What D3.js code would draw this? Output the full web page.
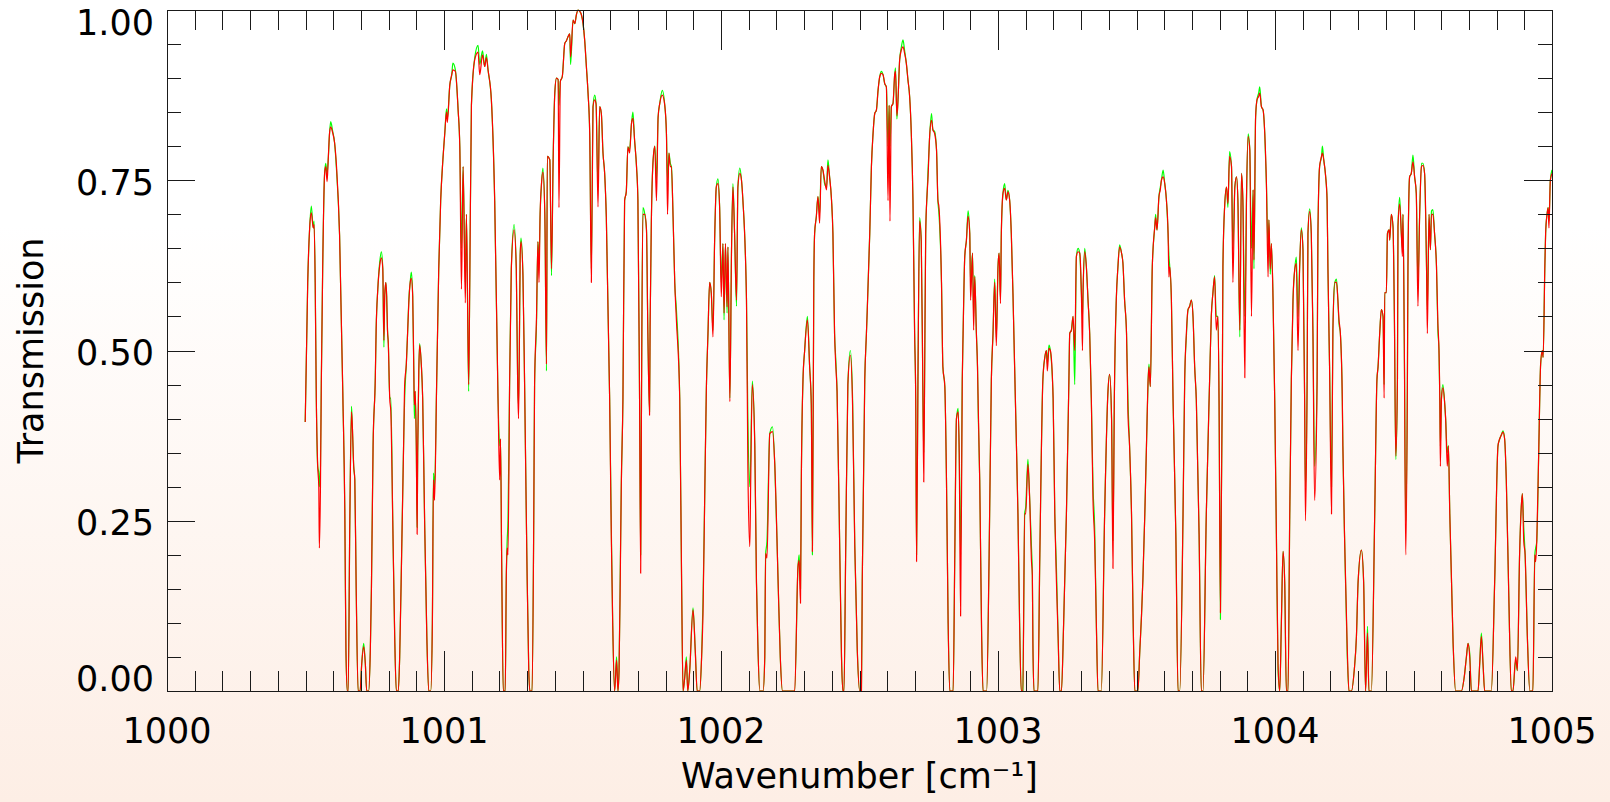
<!DOCTYPE html>
<html>
<head>
<meta charset="utf-8">
<script src="https://cdn.jsdelivr.net/npm/d3@7"></script>
<style>
  html, body { margin: 0; padding: 0; background: #ffffff; }
  svg { display: block; }
</style>
</head>
<body>
<svg id="chart" width="1610" height="802"></svg>
<script>
// Wavenumber grid [cm^-1]
const wavenumber = [
  1000.499,1000.508,1000.515,1000.521,1000.528,1000.531,1000.535,1000.539,1000.544,1000.548,
  1000.550,1000.554,1000.557,1000.562,1000.569,1000.573,1000.578,1000.582,1000.587,1000.591,
  1000.598,1000.605,1000.612,1000.623,1000.635,1000.642,1000.646,1000.651,1000.654,1000.660,
  1000.666,1000.669,1000.674,1000.678,1000.683,1000.690,1000.697,1000.703,1000.710,1000.716,
  1000.721,1000.728,1000.734,1000.738,1000.744,1000.752,1000.755,1000.761,1000.768,1000.774,
  1000.779,1000.783,1000.786,1000.790,1000.793,1000.796,1000.799,1000.804,1000.808,1000.815,
  1000.822,1000.828,1000.835,1000.840,1000.847,1000.855,1000.858,1000.864,1000.869,1000.873,
  1000.878,1000.882,1000.887,1000.891,1000.893,1000.896,1000.900,1000.903,1000.905,1000.909,
  1000.912,1000.918,1000.923,1000.930,1000.938,1000.945,1000.952,1000.958,1000.962,1000.966,
  1000.973,1000.981,1000.988,1000.996,1001.003,1001.009,1001.012,1001.021,1001.028,1001.032,
  1001.041,1001.051,1001.057,1001.063,1001.069,1001.077,1001.081,1001.089,1001.093,1001.099,
  1001.111,1001.123,1001.129,1001.139,1001.147,1001.153,1001.159,1001.171,1001.183,1001.195,
  1001.201,1001.204,1001.208,1001.214,1001.221,1001.225,1001.228,1001.231,1001.237,1001.243,
  1001.253,1001.261,1001.266,1001.269,1001.272,1001.275,1001.278,1001.285,1001.291,1001.299,
  1001.306,1001.310,1001.318,1001.324,1001.327,1001.334,1001.339,1001.343,1001.347,1001.352,
  1001.357,1001.364,1001.370,1001.373,1001.382,1001.388,1001.394,1001.400,1001.406,1001.412,
  1001.415,1001.420,1001.427,1001.436,1001.442,1001.448,1001.454,1001.457,1001.466,1001.472,
  1001.478,1001.484,1001.490,1001.496,1001.502,1001.508,1001.514,1001.520,1001.526,1001.532,
  1001.538,1001.544,1001.549,1001.556,1001.562,1001.568,1001.574,1001.580,1001.586,1001.598,
  1001.604,1001.609,1001.616,1001.623,1001.628,1001.632,1001.637,1001.640,1001.646,1001.652,
  1001.658,1001.664,1001.670,1001.677,1001.682,1001.688,1001.695,1001.700,1001.706,1001.710,
  1001.713,1001.718,1001.725,1001.731,1001.736,1001.742,1001.744,1001.749,1001.755,1001.761,
  1001.767,1001.773,1001.779,1001.788,1001.797,1001.803,1001.807,1001.812,1001.817,1001.821,
  1001.827,1001.833,1001.839,1001.851,1001.858,1001.863,1001.869,1001.875,1001.880,1001.887,
  1001.899,1001.907,1001.914,1001.923,1001.930,1001.935,1001.941,1001.947,1001.953,1001.959,
  1001.965,1001.971,1001.977,1001.983,1001.989,1001.995,1002.001,1002.007,1002.011,1002.016,
  1002.022,1002.025,1002.032,1002.038,1002.043,1002.049,1002.056,1002.061,1002.068,1002.074,
  1002.079,1002.092,1002.097,1002.104,1002.107,1002.113,1002.122,1002.128,1002.133,1002.140,
  1002.152,1002.158,1002.161,1002.166,1002.176,1002.186,1002.194,1002.206,1002.214,1002.222,
  1002.266,1002.278,1002.282,1002.287,1002.290,1002.296,1002.302,1002.312,1002.320,1002.326,
  1002.330,1002.335,1002.338,1002.344,1002.350,1002.356,1002.362,1002.368,1002.374,1002.381,
  1002.386,1002.392,1002.399,1002.404,1002.410,1002.414,1002.419,1002.429,1002.435,1002.440,
  1002.444,1002.450,1002.458,1002.467,1002.475,1002.483,1002.492,1002.501,1002.507,1002.510,
  1002.519,1002.525,1002.537,1002.543,1002.549,1002.555,1002.561,1002.567,1002.573,1002.579,
  1002.585,1002.591,1002.597,1002.603,1002.607,1002.610,1002.615,1002.621,1002.627,1002.630,
  1002.635,1002.639,1002.645,1002.651,1002.657,1002.663,1002.669,1002.675,1002.681,1002.687,
  1002.693,1002.699,1002.703,1002.706,1002.711,1002.717,1002.723,1002.729,1002.732,1002.735,
  1002.739,1002.744,1002.747,1002.753,1002.760,1002.765,1002.771,1002.778,1002.783,1002.787,
  1002.796,1002.801,1002.808,1002.814,1002.820,1002.826,1002.838,1002.844,1002.850,1002.856,
  1002.860,1002.865,1002.871,1002.874,1002.880,1002.886,1002.892,1002.898,1002.901,1002.908,
  1002.912,1002.916,1002.922,1002.926,1002.929,1002.934,1002.941,1002.946,1002.959,1002.968,
  1002.976,1002.982,1002.988,1002.994,1003.000,1003.004,1003.009,1003.012,1003.018,1003.024,
  1003.030,1003.036,1003.042,1003.048,1003.054,1003.060,1003.066,1003.072,1003.078,1003.084,
  1003.090,1003.096,1003.100,1003.108,1003.114,1003.121,1003.124,1003.126,1003.130,1003.144,
  1003.151,1003.162,1003.169,1003.175,1003.178,1003.184,1003.189,1003.199,1003.205,1003.211,
  1003.217,1003.223,1003.229,1003.237,1003.247,1003.256,1003.259,1003.265,1003.271,1003.277,
  1003.283,1003.289,1003.295,1003.301,1003.305,1003.307,1003.313,1003.319,1003.325,1003.331,
  1003.337,1003.343,1003.349,1003.355,1003.361,1003.373,1003.385,1003.397,1003.403,1003.410,
  1003.415,1003.420,1003.427,1003.433,1003.439,1003.446,1003.451,1003.457,1003.464,1003.469,
  1003.475,1003.482,1003.488,1003.494,1003.505,1003.512,1003.518,1003.523,1003.530,1003.536,
  1003.542,1003.545,1003.550,1003.557,1003.566,1003.569,1003.574,1003.581,1003.586,1003.590,
  1003.596,1003.602,1003.608,1003.614,1003.617,1003.620,1003.626,1003.632,1003.642,1003.650,
  1003.656,1003.668,1003.674,1003.680,1003.686,1003.692,1003.698,1003.704,1003.710,1003.716,
  1003.726,1003.734,1003.740,1003.752,1003.764,1003.770,1003.776,1003.782,1003.788,1003.794,
  1003.798,1003.803,1003.810,1003.812,1003.818,1003.825,1003.830,1003.836,1003.843,1003.848,
  1003.855,1003.861,1003.866,1003.873,1003.879,1003.884,1003.891,1003.897,1003.903,1003.909,
  1003.915,1003.921,1003.924,1003.930,1003.935,1003.941,1003.945,1003.951,1003.957,1003.963,
  1003.969,1003.975,1003.978,1003.983,1003.987,1003.993,1003.999,1004.005,1004.011,1004.017,
  1004.023,1004.029,1004.035,1004.041,1004.047,1004.053,1004.059,1004.065,1004.071,1004.077,
  1004.083,1004.089,1004.095,1004.101,1004.107,1004.110,1004.116,1004.119,1004.125,1004.131,
  1004.137,1004.143,1004.152,1004.155,1004.161,1004.168,1004.171,1004.176,1004.183,1004.188,
  1004.191,1004.197,1004.204,1004.209,1004.216,1004.222,1004.227,1004.231,1004.236,1004.243,
  1004.245,1004.252,1004.261,1004.267,1004.276,1004.286,1004.294,1004.300,1004.312,1004.320,
  1004.327,1004.334,1004.339,1004.348,1004.360,1004.368,1004.372,1004.378,1004.384,1004.390,
  1004.394,1004.396,1004.402,1004.406,1004.412,1004.414,1004.420,1004.426,1004.431,1004.436,
  1004.442,1004.444,1004.450,1004.456,1004.460,1004.462,1004.467,1004.472,1004.478,1004.480,
  1004.486,1004.492,1004.498,1004.504,1004.510,1004.516,1004.522,1004.529,1004.534,1004.540,
  1004.547,1004.550,1004.556,1004.561,1004.565,1004.570,1004.576,1004.583,1004.588,1004.592,
  1004.595,1004.597,1004.601,1004.606,1004.613,1004.616,1004.622,1004.626,1004.631,1004.643,
  1004.652,1004.673,1004.683,1004.691,1004.697,1004.703,1004.709,1004.733,1004.739,1004.745,
  1004.751,1004.757,1004.781,1004.793,1004.805,1004.811,1004.817,1004.823,1004.829,1004.835,
  1004.844,1004.853,1004.859,1004.869,1004.875,1004.883,1004.889,1004.893,1004.898,1004.903,
  1004.911,1004.920,1004.931,1004.938,1004.941,1004.945,1004.952,1004.959,1004.965,1004.968,
  1004.974,1004.977,1004.982,1004.986,1004.989,1004.994,1005.000
];

// Transmission, red spectrum
const transRed = [
  .395,.60,.68,.702,.68,.685,.60,.43,.33,.30,
  .21,.30,.45,.62,.76,.77,.748,.78,.82,.828,
  .82,.805,.77,.67,.43,.26,.06,0,0,.25,
  .41,.39,.33,.31,.15,0,0,.04,.065,.04,
  0,0,.06,.15,.36,.46,.53,.59,.625,.636,
  .62,.515,.58,.60,.58,.53,.51,.43,.41,.25,
  .08,0,0,.05,.20,.38,.45,.48,.53,.57,
  .60,.606,.58,.47,.42,.44,.36,.23,.35,.47,
  .508,.48,.43,.25,.08,0,0,.10,.31,.28,
  .44,.62,.72,.78,.82,.85,.835,.89,.905,.912,
  .91,.853,.80,.59,.77,.57,.70,.45,.60,.86,
  .927,.938,.905,.934,.917,.93,.912,.868,.72,.43,
  .31,.37,.20,0,0,.17,.21,.20,.457,.62,
  .677,.62,.45,.40,.50,.64,.66,.61,.45,.20,
  .03,0,0,.25,.45,.55,.66,.60,.70,.745,
  .762,.70,.48,.785,.78,.62,.78,.878,.90,.898,
  .71,.895,.902,.951,.955,.961,.965,.931,.985,.98,
  .993,1.0,.998,.993,.98,.955,.917,.878,.819,.60,
  .858,.868,.862,.711,.858,.848,.79,.76,.696,.43,
  .227,.10,0,.045,0,.03,.19,.30,.43,.72,
  .733,.799,.79,.834,.841,.809,.77,.721,.43,.173,
  .43,.70,.70,.677,.525,.405,.535,.70,.78,.80,
  .72,.843,.863,.875,.86,.819,.70,.79,.77,.77,
  .696,.60,.545,.43,.15,0,.02,.045,0,.03,
  .119,.06,0,0,.05,.114,.28,.44,.525,.60,
  .584,.52,.662,.74,.745,.711,.579,.657,.555,.657,
  .564,.652,.425,.648,.74,.672,.574,.74,.76,.75,
  .721,.574,.33,.212,.30,.45,.36,.16,.07,0,
  0,.05,.202,.195,.378,.381,.334,.163,.05,0,
  0,.183,.192,.129,.31,.457,.50,.545,.476,.42,
  .205,.60,.672,.696,.726,.687,.77,.765,.75,.736,
  .772,.755,.721,.672,.525,.481,.44,.20,.05,0,
  0,.20,.45,.493,.42,.212,.06,0,0,.163,
  .457,.525,.672,.77,.819,.848,.853,.882,.902,.907,
  .905,.892,.887,.72,.86,.69,.858,.863,.905,.91,
  .845,.868,.927,.941,.946,.936,.922,.897,.873,.819,
  .721,.525,.427,.19,.457,.69,.66,.43,.307,.457,
  .672,.73,.75,.813,.838,.824,.819,.795,.721,.71,
  .60,.476,.447,.31,.10,0,0,.20,.40,.41,
  .35,.11,.457,.525,.638,.662,.697,.672,.574,.643,
  .53,.608,.525,.476,.41,.31,.08,0,0,.20,
  .457,.525,.60,.507,.623,.643,.569,.672,.731,.738,
  .721,.733,.721,.672,.584,.476,.37,.26,.10,0,
  0,.26,.26,.333,.286,.19,.17,.07,0,0,
  .20,.457,.49,.50,.47,.503,.50,.43,.26,.16,
  .08,0,0,.10,.26,.457,.525,.53,.55,.50,
  .638,.645,.643,.585,.50,.585,.645,.623,.574,.525,
  .427,.28,.22,.10,0,0,.26,.44,.465,.40,
  .18,.43,.574,.623,.652,.643,.628,.574,.525,.41,
  .36,.26,.10,0,0,.06,.11,.163,.26,.36,
  .457,.476,.447,.623,.682,.695,.677,.726,.736,.75,
  .755,.745,.721,.672,.608,.623,.574,.427,.23,0,
  0,.26,.457,.525,.56,.565,.574,.55,.476,.427,
  .23,0,0,.26,.457,.55,.585,.608,.53,.55,
  .427,.115,.457,.623,.71,.74,.716,.785,.77,.60,
  .74,.755,.721,.53,.76,.721,.46,.72,.814,.795,
  .55,.736,.633,.843,.868,.873,.878,.858,.853,.819,
  .745,.608,.692,.62,.657,.574,.427,.23,.04,0,
  .10,.205,.16,0,0,.25,.457,.574,.618,.628,
  .50,.623,.677,.648,.427,.25,.457,.672,.704,.672,
  .525,.28,.457,.672,.77,.785,.79,.78,.755,.721,
  .623,.476,.26,.53,.60,.60,.574,.545,.525,.427,
  .36,.21,.06,0,0,.03,.08,.16,.207,.16,
  0,.085,0,0,.26,.457,.476,.525,.56,.55,
  .43,.585,.585,.672,.677,.662,.70,.682,.55,.345,
  .457,.682,.715,.672,.638,.70,.50,.20,.457,.623,
  .755,.76,.777,.755,.731,.565,.696,.77,.772,.76,
  .623,.525,.70,.648,.70,.70,.672,.623,.54,.50,
  .427,.33,.43,.445,.42,.40,.33,.36,.26,.07,
  0,0,.02,.05,.07,.05,0,0,.04,.08,
  .04,0,0,.16,.36,.37,.376,.38,.37,.31,
  .14,0,0,.05,.03,.20,.27,.29,.22,.20,
  .08,0,0,.20,.19,.22,.35,.48,.50,.49,
  .62,.672,.70,.71,.68,.75,.76
];

// Transmission, green spectrum
const transGreen = [
  .395,.60,.68,.712,.68,.69,.60,.43,.33,.32,
  .30,.33,.45,.62,.76,.775,.76,.78,.82,.836,
  .822,.805,.765,.67,.43,.26,.06,0,0,.25,
  .418,.39,.33,.31,.15,0,0,.04,.07,.04,
  0,0,.06,.15,.36,.46,.53,.59,.63,.645,
  .62,.505,.58,.60,.58,.53,.51,.43,.43,.25,
  .08,0,0,.05,.20,.38,.43,.48,.53,.575,
  .60,.615,.58,.47,.40,.44,.36,.24,.35,.47,
  .51,.48,.43,.25,.08,0,0,.10,.32,.30,
  .44,.62,.72,.78,.82,.855,.84,.89,.905,.922,
  .912,.853,.80,.65,.77,.60,.70,.44,.60,.86,
  .93,.948,.92,.94,.917,.935,.912,.868,.72,.43,
  .36,.37,.20,0,0,.17,.22,.25,.457,.62,
  .685,.62,.45,.42,.50,.64,.665,.61,.45,.20,
  .03,0,0,.25,.45,.54,.66,.63,.70,.745,
  .768,.70,.47,.785,.78,.61,.78,.878,.90,.898,
  .86,.895,.902,.951,.955,.961,.965,.92,.985,.98,
  .993,1.0,.998,.993,.98,.955,.917,.878,.819,.62,
  .858,.875,.862,.74,.858,.848,.79,.76,.696,.43,
  .24,.10,0,.05,0,.03,.20,.30,.43,.72,
  .733,.799,.795,.834,.85,.809,.77,.721,.43,.20,
  .43,.71,.70,.677,.525,.41,.535,.70,.78,.80,
  .75,.843,.863,.882,.86,.819,.75,.79,.775,.77,
  .696,.60,.56,.43,.15,0,.02,.05,0,.03,
  .122,.06,0,0,.05,.13,.28,.44,.525,.60,
  .584,.53,.662,.74,.752,.711,.60,.657,.545,.657,
  .555,.652,.43,.648,.745,.672,.565,.74,.768,.75,
  .721,.574,.40,.30,.34,.455,.36,.16,.07,0,
  0,.05,.20,.22,.378,.388,.334,.163,.05,0,
  0,.183,.20,.15,.31,.457,.50,.55,.476,.42,
  .20,.60,.672,.696,.726,.70,.77,.765,.745,.74,
  .78,.755,.721,.672,.525,.49,.44,.20,.05,0,
  0,.20,.45,.50,.43,.212,.06,0,0,.163,
  .457,.525,.672,.77,.819,.848,.853,.882,.902,.91,
  .905,.892,.887,.80,.86,.80,.858,.863,.905,.915,
  .84,.868,.927,.945,.956,.94,.922,.897,.873,.819,
  .721,.525,.427,.20,.457,.695,.66,.43,.35,.457,
  .672,.73,.76,.813,.848,.824,.822,.795,.721,.70,
  .60,.476,.447,.31,.10,0,0,.20,.40,.415,
  .35,.20,.457,.525,.638,.662,.705,.672,.60,.643,
  .55,.61,.525,.476,.40,.31,.08,0,0,.20,
  .457,.525,.605,.52,.623,.643,.575,.672,.731,.745,
  .721,.735,.721,.672,.584,.476,.37,.26,.10,0,
  0,.26,.27,.34,.286,.21,.17,.07,0,0,
  .20,.457,.49,.50,.48,.508,.50,.43,.26,.18,
  .08,0,0,.10,.26,.457,.525,.53,.55,.45,
  .638,.65,.643,.585,.55,.585,.65,.623,.574,.525,
  .427,.30,.24,.10,0,0,.26,.44,.465,.40,
  .22,.43,.574,.623,.655,.643,.628,.574,.525,.43,
  .36,.26,.10,0,0,.06,.11,.163,.26,.36,
  .457,.48,.447,.623,.682,.70,.677,.726,.74,.75,
  .765,.745,.721,.672,.64,.623,.574,.427,.23,0,
  0,.26,.457,.52,.56,.565,.574,.55,.476,.427,
  .23,0,0,.26,.457,.55,.585,.61,.55,.55,
  .427,.105,.457,.623,.71,.74,.71,.792,.77,.65,
  .74,.755,.721,.52,.76,.721,.55,.72,.818,.795,
  .65,.736,.62,.843,.868,.878,.887,.858,.853,.819,
  .745,.65,.692,.612,.657,.574,.427,.23,.03,0,
  .10,.205,.16,0,0,.25,.457,.574,.618,.637,
  .55,.623,.68,.648,.427,.30,.457,.672,.708,.672,
  .525,.33,.457,.672,.77,.785,.80,.78,.755,.721,
  .623,.476,.30,.53,.60,.605,.574,.54,.525,.427,
  .36,.21,.05,0,0,.03,.08,.16,.207,.16,
  0,.095,0,0,.26,.457,.476,.525,.56,.55,
  .45,.585,.585,.672,.677,.662,.70,.682,.55,.34,
  .457,.682,.725,.672,.65,.70,.50,.25,.457,.623,
  .755,.76,.787,.755,.731,.60,.696,.775,.775,.76,
  .623,.56,.70,.648,.705,.707,.672,.623,.53,.50,
  .427,.36,.43,.45,.42,.40,.35,.36,.26,.07,
  0,0,.02,.05,.07,.055,0,0,.04,.085,
  .04,0,0,.16,.36,.37,.376,.382,.37,.31,
  .14,0,0,.045,.03,.20,.27,.29,.24,.20,
  .08,0,0,.20,.21,.22,.35,.48,.50,.49,
  .62,.672,.70,.71,.69,.75,.765
];

// Axis ticks and labels
const xMajorTicks = [1000, 1001, 1002, 1003, 1004, 1005];
const xTickLabels = ["1000", "1001", "1002", "1003", "1004", "1005"];
const yMajorTicks = [0, 0.25, 0.5, 0.75, 1.0];
const yTickLabels = ["0.00", "0.25", "0.50", "0.75", "1.00"];
const xMinorStep = 0.1;
const yMinorStep = 0.05;
const xAxisTitle = "Wavenumber [cm\u207B\u00B9]";
const yAxisTitle = "Transmission";

const W = 1610, H = 802;
const plot = { left: 167, right: 1552, top: 10, bottom: 691 };
const FONT = "'DejaVu Sans', 'Liberation Sans', sans-serif";

const svg = d3.select("#chart");

// Background: white at the top fading to a light peach at the bottom
const defs = svg.append("defs");
const grad = defs.append("linearGradient")
  .attr("id", "bg").attr("x1", 0).attr("y1", 0).attr("x2", 0).attr("y2", 1);
grad.append("stop").attr("offset", "0%").attr("stop-color", "#ffffff");
grad.append("stop").attr("offset", "28%").attr("stop-color", "#ffffff");
grad.append("stop").attr("offset", "100%").attr("stop-color", "#fdeee5");
svg.append("rect").attr("width", W).attr("height", H).attr("fill", "url(#bg)");

defs.append("clipPath").attr("id", "plotClip")
  .append("rect")
  .attr("x", plot.left).attr("y", plot.top - 2)
  .attr("width", plot.right - plot.left).attr("height", plot.bottom - plot.top + 2);

const x = d3.scaleLinear().domain([1000, 1005]).range([plot.left, plot.right]);
const y = d3.scaleLinear().domain([0, 1]).range([plot.bottom, plot.top]);

const xMinor = d3.range(1000, 1005.0001, xMinorStep).map(v => +v.toFixed(1))
  .filter(v => !xMajorTicks.includes(v));
const yMinor = d3.range(0, 1.0001, yMinorStep).map(v => +v.toFixed(2))
  .filter(v => !yMajorTicks.includes(v));

// Spectra: green underneath, red on top
const line = d3.line()
  .x(d => x(d[0]))
  .y(d => y(d[1]))
  .curve(d3.curveMonotoneX);

const greenPts = wavenumber.map((w, i) => [w, transGreen[i]]).filter(d => d[1] !== undefined);
const redPts = wavenumber.map((w, i) => [w, transRed[i]]).filter(d => d[1] !== undefined);

const traces = svg.append("g").attr("clip-path", "url(#plotClip)");
traces.append("path").datum(greenPts)
  .attr("d", line).attr("fill", "none")
  .attr("stroke", "#00ff00").attr("stroke-width", 1.2).attr("stroke-linejoin", "round");
traces.append("path").datum(redPts)
  .attr("d", line).attr("fill", "none")
  .attr("stroke", "#ff0000").attr("stroke-width", 1.2).attr("stroke-linejoin", "round");

// Tick marks on all four sides, pointing inward
function styleAxis(g) {
  g.select(".domain").remove();
  g.selectAll(".tick line").attr("stroke", "#1a1a1a").attr("shape-rendering", "crispEdges");
  g.selectAll(".tick text").remove();
}
const axes = svg.append("g");
axes.append("g").attr("transform", `translate(0,${plot.bottom})`)
  .call(d3.axisBottom(x).tickValues(xMinor).tickSize(-20)).call(styleAxis);
axes.append("g").attr("transform", `translate(0,${plot.bottom})`)
  .call(d3.axisBottom(x).tickValues(xMajorTicks).tickSize(-40)).call(styleAxis);
axes.append("g").attr("transform", `translate(0,${plot.top})`)
  .call(d3.axisTop(x).tickValues(xMinor).tickSize(-20)).call(styleAxis);
axes.append("g").attr("transform", `translate(0,${plot.top})`)
  .call(d3.axisTop(x).tickValues(xMajorTicks).tickSize(-40)).call(styleAxis);
axes.append("g").attr("transform", `translate(${plot.left},0)`)
  .call(d3.axisLeft(y).tickValues(yMinor).tickSize(-14)).call(styleAxis);
axes.append("g").attr("transform", `translate(${plot.left},0)`)
  .call(d3.axisLeft(y).tickValues(yMajorTicks).tickSize(-28)).call(styleAxis);
axes.append("g").attr("transform", `translate(${plot.right},0)`)
  .call(d3.axisRight(y).tickValues(yMinor).tickSize(-14)).call(styleAxis);
axes.append("g").attr("transform", `translate(${plot.right},0)`)
  .call(d3.axisRight(y).tickValues(yMajorTicks).tickSize(-28)).call(styleAxis);

// Frame
svg.append("rect")
  .attr("x", plot.left).attr("y", plot.top)
  .attr("width", plot.right - plot.left).attr("height", plot.bottom - plot.top)
  .attr("fill", "none").attr("stroke", "#1a1a1a").attr("stroke-width", 1)
  .attr("shape-rendering", "crispEdges");

// Tick labels
svg.append("g").selectAll("text").data(xMajorTicks).join("text")
  .attr("x", d => x(d)).attr("y", 743)
  .attr("text-anchor", "middle")
  .attr("font-family", FONT).attr("font-size", 35).attr("fill", "#000")
  .text((d, i) => xTickLabels[i]);

svg.append("g").selectAll("text").data(yMajorTicks).join("text")
  .attr("x", 154)
  .attr("y", d => Math.min(Math.max(y(d) + 14.5, plot.top + 25), plot.bottom))
  .attr("text-anchor", "end")
  .attr("font-family", FONT).attr("font-size", 35).attr("fill", "#000")
  .text((d, i) => yTickLabels[i]);

// Axis titles
svg.append("text")
  .attr("x", (plot.left + plot.right) / 2).attr("y", 788)
  .attr("text-anchor", "middle")
  .attr("font-family", FONT).attr("font-size", 35).attr("fill", "#000")
  .text(xAxisTitle);

svg.append("text")
  .attr("transform", `translate(43,${(plot.top + plot.bottom) / 2}) rotate(-90)`)
  .attr("text-anchor", "middle")
  .attr("font-family", FONT).attr("font-size", 35).attr("fill", "#000")
  .text(yAxisTitle);
</script>
</body>
</html>
